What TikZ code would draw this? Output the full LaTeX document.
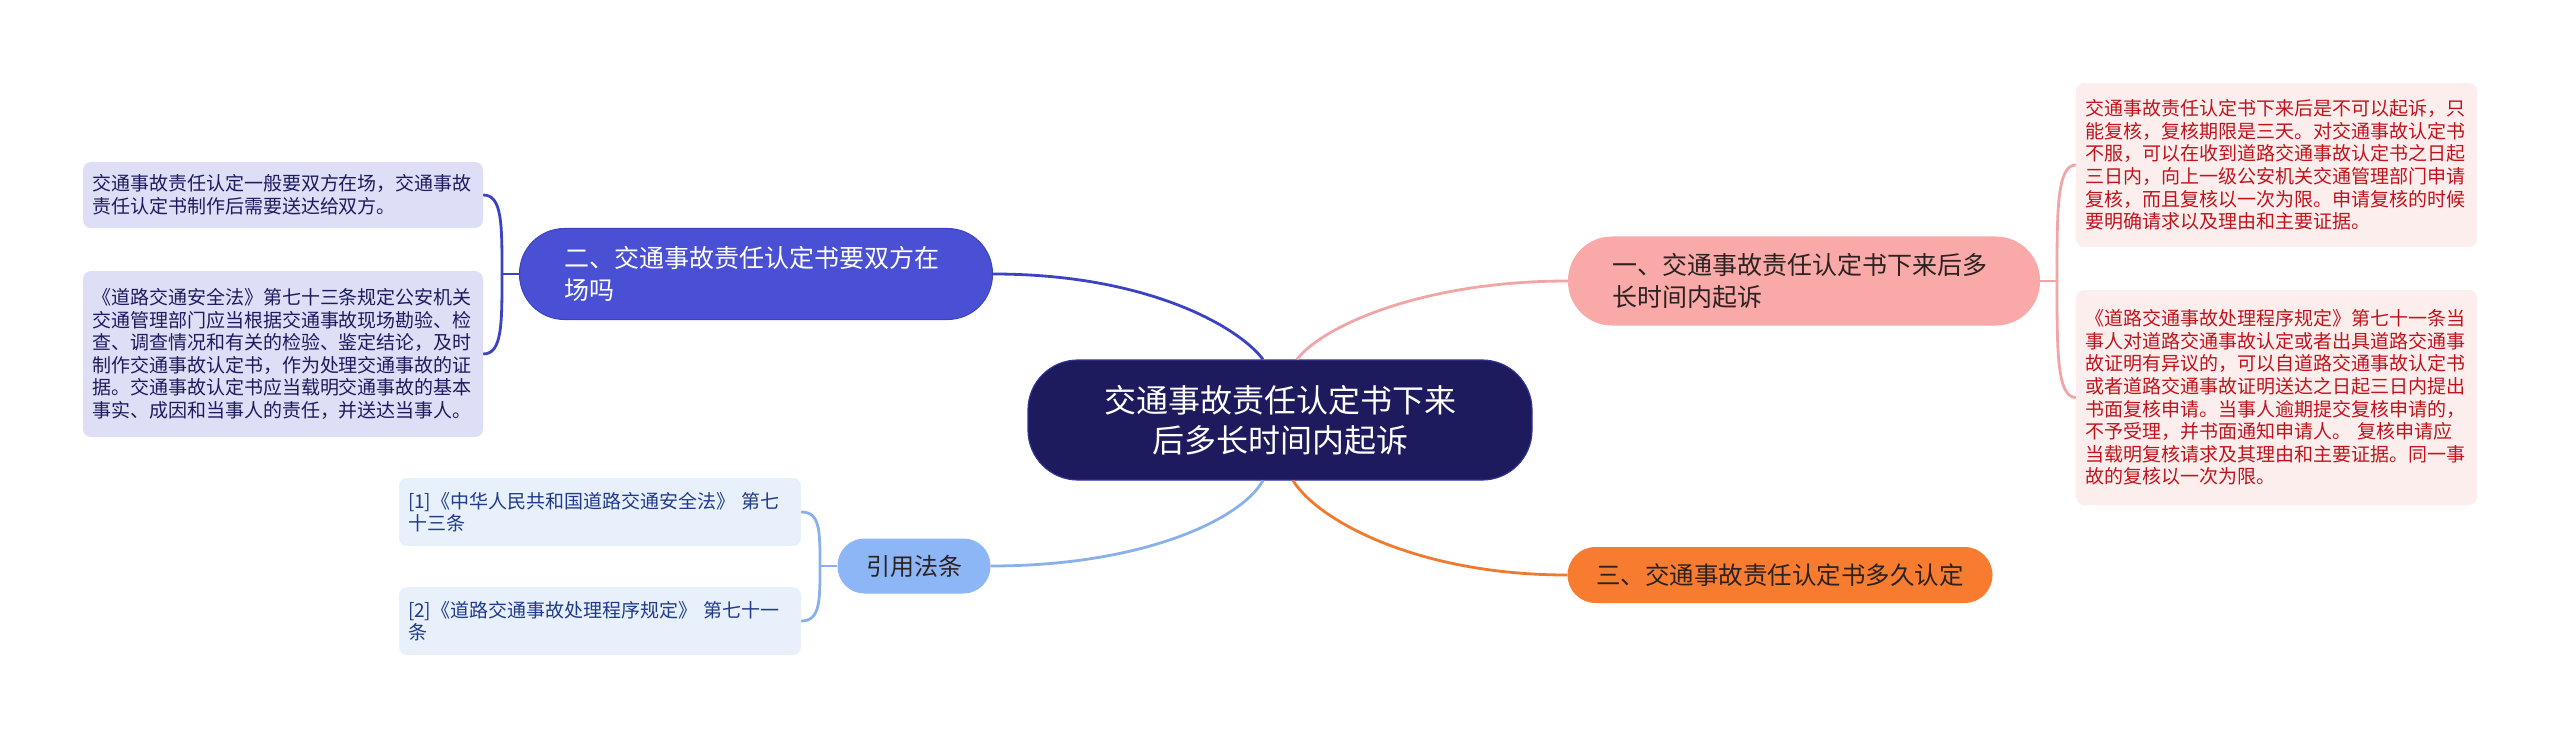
\documentclass[tikz,border=0pt]{standalone}
\usepackage{fontspec}
\setmainfont{Noto Sans CJK SC}
\usetikzlibrary{calc}
\definecolor{navy}{HTML}{1D1B5E}
\definecolor{navyedge}{HTML}{2F3491}
\definecolor{bluen}{HTML}{4A50D4}
\definecolor{bluel}{HTML}{3C43C2}
\definecolor{lav}{HTML}{DEDFF7}
\definecolor{pinkn}{HTML}{F9A9A7}
\definecolor{pinkl}{HTML}{F2A5A5}
\definecolor{pinkleaf}{HTML}{FDEEEE}
\definecolor{redtxt}{HTML}{C0141C}
\definecolor{orangen}{HTML}{F77C30}
\definecolor{orangel}{HTML}{EF7A2E}
\definecolor{refn}{HTML}{8CB6F6}
\definecolor{refl}{HTML}{8AB0EC}
\definecolor{refleaf}{HTML}{E8F0FC}
\definecolor{reftxt}{HTML}{1F3B8A}
\definecolor{darktxt}{HTML}{2B2222}
\begin{document}
\begin{tikzpicture}[x=1pt,y=-1pt,
  leaf/.style={rounded corners=8pt, align=left, inner xsep=9pt, inner ysep=0pt,
    text width=#1, font=\fontsize{19}{22.6}\selectfont},
  pill/.style={rounded corners=#1, inner ysep=0pt},
  conn/.style={line width=2.8pt},
]
\useasboundingbox (0,0) rectangle (2560,738);

% central node
\node[pill=50pt, fill=navy, draw=navyedge, line width=1.2pt, minimum width=504pt, minimum height=120pt,
  align=center, text=white, font=\fontsize{32}{40}\selectfont] (c) at (1280,420)
  {交通事故责任认定书下来\\后多长时间内起诉};

% main branches
\node[pill=44pt, fill=pinkn, minimum height=89pt, inner xsep=44pt, text width=384pt, align=left,
  text=darktxt, font=\fontsize{25}{32}\selectfont] (n1) at (1804,281)
  {一、交通事故责任认定书下来后多\\长时间内起诉};
\node[pill=45pt, fill=bluen, draw=bluel, line width=1pt, minimum height=91pt, inner xsep=45pt, text width=383pt, align=left,
  text=white, font=\fontsize{25}{32}\selectfont] (n2) at (756,274)
  {二、交通事故责任认定书要双方在\\场吗};
\node[pill=28pt, fill=orangen, minimum height=56pt, minimum width=425pt, align=center,
  text=darktxt, font=\fontsize{24.5}{30}\selectfont] (n3) at (1780,575)
  {三、交通事故责任认定书多久认定};
\node[pill=27pt, fill=refn, minimum height=55pt, minimum width=153pt, align=center,
  text=darktxt, font=\fontsize{24}{30}\selectfont] (ref) at (914,566)
  {引用法条};

% left leaves (branch 2)
\node[leaf=382pt, fill=lav, text=navy, minimum height=66pt] (l2a) at (283,195)
  {交通事故责任认定一般要双方在场，交通事故\\责任认定书制作后需要送达给双方。};
\node[leaf=382pt, fill=lav, text=navy, minimum height=166pt] (l2b) at (283,354)
  {《道路交通安全法》第七十三条规定公安机关\\交通管理部门应当根据交通事故现场勘验、检\\查、调查情况和有关的检验、鉴定结论，及时\\制作交通事故认定书，作为处理交通事故的证\\据。交通事故认定书应当载明交通事故的基本\\事实、成因和当事人的责任，并送达当事人。};

% reference leaves
\node[leaf=384pt, fill=refleaf, text=reftxt, minimum height=68pt] (r1) at (600,512)
  {[1]《中华人民共和国道路交通安全法》 第七\\十三条};
\node[leaf=384pt, fill=refleaf, text=reftxt, minimum height=68pt] (r2) at (600,621)
  {[2]《道路交通事故处理程序规定》 第七十一\\条};

% right leaves (branch 1)
\node[leaf=383pt, fill=pinkleaf, text=redtxt, minimum height=164pt] (l1a) at (2276.5,165)
  {交通事故责任认定书下来后是不可以起诉，只\\能复核，复核期限是三天。对交通事故认定书\\不服，可以在收到道路交通事故认定书之日起\\三日内，向上一级公安机关交通管理部门申请\\复核，而且复核以一次为限。申请复核的时候\\要明确请求以及理由和主要证据。};
\node[leaf=383pt, fill=pinkleaf, text=redtxt, minimum height=215pt] (l1b) at (2276.5,397.5)
  {《道路交通事故处理程序规定》第七十一条当\\事人对道路交通事故认定或者出具道路交通事\\故证明有异议的，可以自道路交通事故认定书\\或者道路交通事故证明送达之日起三日内提出\\书面复核申请。当事人逾期提交复核申请的，\\不予受理，并书面通知申请人。 复核申请应\\当载明复核请求及其理由和主要证据。同一事\\故的复核以一次为限。};

% connectors from centre
\draw[conn, bluel] (n2.east) .. controls +(157,0) and +(-23,-31) .. ($(c.north)+(-17,0)$);
\draw[conn, pinkl] (n1.west) .. controls +(-150,0) and +(23,-31) .. ($(c.north)+(17,0)$);
\draw[conn, orangel] (n3.west) .. controls +(-150,0) and +(25,40) .. ($(c.south)+(13,0)$);
\draw[conn, refl] (ref.east) .. controls +(150,0) and +(-23,40) .. ($(c.south)+(-17,0)$);

% brackets
\coordinate (j2) at (502,274);
\draw[conn, bluel] (n2.west) -- (j2);
\draw[conn, bluel] (l2a.east) .. controls +(19,0) and +(0,-50) .. (j2);
\draw[conn, bluel] (l2b.east) .. controls +(19,0) and +(0,50) .. (j2);

\coordinate (j1) at (2057,281);
\draw[conn, pinkl] (n1.east) -- (j1);
\draw[conn, pinkl] (l1a.west) .. controls +(-19,0) and +(0,-70) .. (j1);
\draw[conn, pinkl] (l1b.west) .. controls +(-19,0) and +(0,70) .. (j1);

\coordinate (j3) at (820,566);
\draw[conn, refl] (ref.west) -- (j3);
\draw[conn, refl] (r1.east) .. controls +(19,0) and +(0,-35) .. (j3);
\draw[conn, refl] (r2.east) .. controls +(19,0) and +(0,35) .. (j3);
\end{tikzpicture}
\end{document}
